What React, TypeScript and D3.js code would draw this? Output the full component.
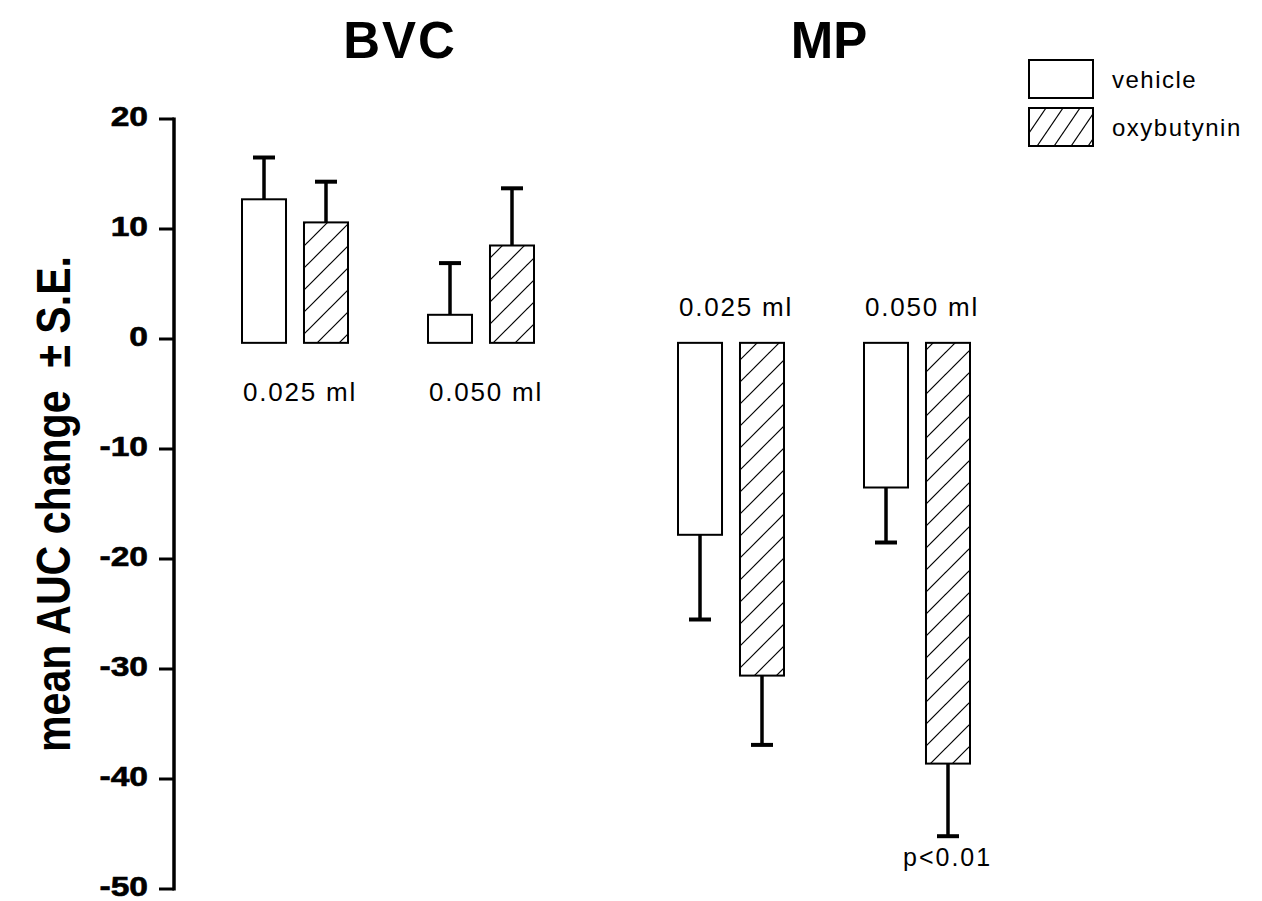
import React from "react";
import * as d3 from "d3";

// Groups, doses and treatments
const groups = ["BVC", "MP"];
const doses = ["0.025 ml", "0.050 ml"];
const treatments = ["vehicle", "oxybutynin"];

// Mean AUC change and S.E., ordered BVC 0.025, BVC 0.050, MP 0.025, MP 0.050
const vehicleMean = [12.7, 2.2, -17.8, -13.5];
const vehicleSE = [3.8, 4.7, 7.7, 5.0];
const oxybutyninMean = [10.6, 8.5, -30.6, -38.6];
const oxybutyninSE = [3.7, 5.2, 6.3, 6.6];

const yTicks = [20, 10, 0, -10, -20, -30, -40, -50];
const yTitle = "mean AUC change\u00a0\u00a0\u00b1 S.E.";
const significance = "p<0.01";

const W = 1262;
const H = 901;
const FONT = "'Liberation Sans', Arial, Helvetica, sans-serif";
const BASE = -0.35; // bars are drawn from just under the zero line

type Bar = {
  group: string;
  dose: string;
  treatment: string;
  mean: number;
  se: number;
};

const bars: Bar[] = [];
groups.forEach((g, gi) =>
  doses.forEach((d, di) => {
    const k = gi * doses.length + di;
    bars.push({ group: g, dose: d, treatment: treatments[0], mean: vehicleMean[k], se: vehicleSE[k] });
    bars.push({ group: g, dose: d, treatment: treatments[1], mean: oxybutyninMean[k], se: oxybutyninSE[k] });
  })
);

export default function App() {
  const y = d3.scaleLinear().domain([-50, 20]).range([889, 119]);
  const gx = d3.scalePoint<string>().domain(groups).range([388, 824]);
  const dx = d3.scalePoint<string>().domain(doses).range([-93, 93]);
  const tx = d3.scaleBand<string>().domain(treatments).range([-53, 53]).paddingInner(0.29).paddingOuter(0);
  const bw = tx.bandwidth();
  const axisX = 174;

  const barX = (b: Bar) => (gx(b.group) as number) + (dx(b.dose) as number) + (tx(b.treatment) as number);
  const pairLeft = (g: string, d: string) =>
    (gx(g) as number) + (dx(d) as number) + (tx(treatments[0]) as number);

  return (
    <svg width={W} height={H} style={{ position: "absolute", left: 0, top: 0, background: "#fff" }} fontFamily={FONT}>
      <defs>
        <pattern id="hatch" patternUnits="userSpaceOnUse" width={22} height={22}>
          <line x1={0} y1={22} x2={22} y2={0} stroke="#000" strokeWidth={1.2} />
          <line x1={-2} y1={2} x2={2} y2={-2} stroke="#000" strokeWidth={1.2} />
          <line x1={20} y1={24} x2={24} y2={20} stroke="#000" strokeWidth={1.2} />
        </pattern>
        <pattern id="hatchKey" patternUnits="userSpaceOnUse" width={17} height={25} x={1029} y={108}>
          <line x1={0} y1={25} x2={17} y2={0} stroke="#000" strokeWidth={1.2} />
          <line x1={-2} y1={3} x2={2} y2={-3} stroke="#000" strokeWidth={1.2} />
          <line x1={15} y1={28} x2={19} y2={22} stroke="#000" strokeWidth={1.2} />
        </pattern>
      </defs>

      {/* group titles */}
      {groups.map((g) => (
        <text
          key={g}
          x={gx(g)! + (g === "BVC" ? 12 : 5)}
          y={58}
          textAnchor="middle"
          fontSize={51}
          fontWeight="bold"
          letterSpacing={g === "BVC" ? 2 : 0}
        >
          {g}
        </text>
      ))}

      {/* y axis */}
      <line x1={axisX} x2={axisX} y1={y(20) - 1.5} y2={y(-50) + 1.5} stroke="#000" strokeWidth={3.5} />
      {yTicks.map((t) => (
        <g key={t}>
          <line x1={axisX - 15} x2={axisX} y1={y(t)} y2={y(t)} stroke="#000" strokeWidth={3} />
          <text
            transform={`translate(148, ${y(t) + 7}) scale(1.2, 1)`}
            textAnchor="end"
            fontSize={28}
            fontWeight="bold"
            stroke="#000"
            strokeWidth={0.6}
          >
            {t}
          </text>
        </g>
      ))}
      <text
        transform={`translate(70, ${504}) rotate(-90)`}
        textAnchor="middle"
        fontSize={48}
        fontWeight="bold"
        textLength={496}
        lengthAdjust="spacingAndGlyphs"
      >
        {yTitle}
      </text>

      {/* bars */}
      {bars.map((b, i) => {
        const x0 = barX(b);
        const top = Math.min(y(b.mean), y(BASE));
        const h = Math.abs(y(b.mean) - y(BASE));
        const cx = x0 + bw / 2;
        const end = b.mean >= 0 ? b.mean + b.se : b.mean - b.se;
        return (
          <g key={i}>
            <line x1={cx} x2={cx} y1={y(b.mean)} y2={y(end)} stroke="#000" strokeWidth={3.5} />
            <line x1={cx - 11} x2={cx + 11} y1={y(end)} y2={y(end)} stroke="#000" strokeWidth={4} />
            <rect
              x={x0}
              y={top}
              width={bw}
              height={h}
              fill={b.treatment === treatments[1] ? "url(#hatch)" : "#fff"}
              stroke="#000"
              strokeWidth={2}
            />
          </g>
        );
      })}

      {/* dose labels */}
      {groups.map((g) =>
        doses.map((d) => (
          <text
            key={g + d}
            x={pairLeft(g, d) + 1}
            y={g === "BVC" ? y(BASE) + 58 : y(BASE) - 27}
            fontSize={26}
            letterSpacing={1.8}
          >
            {d}
          </text>
        ))
      )}

      {/* significance */}
      <text x={barX(bars[7]) - 23} y={866} fontSize={25} letterSpacing={2}>
        {significance}
      </text>

      {/* legend */}
      {treatments.map((t, i) => (
        <g key={t}>
          <rect
            x={1029}
            y={60 + i * 48}
            width={64}
            height={38}
            fill={i === 1 ? "url(#hatchKey)" : "#fff"}
            stroke="#000"
            strokeWidth={2}
          />
          <text x={1112} y={88 + i * 48} fontSize={24} letterSpacing={1.5}>
            {t}
          </text>
        </g>
      ))}
    </svg>
  );
}
